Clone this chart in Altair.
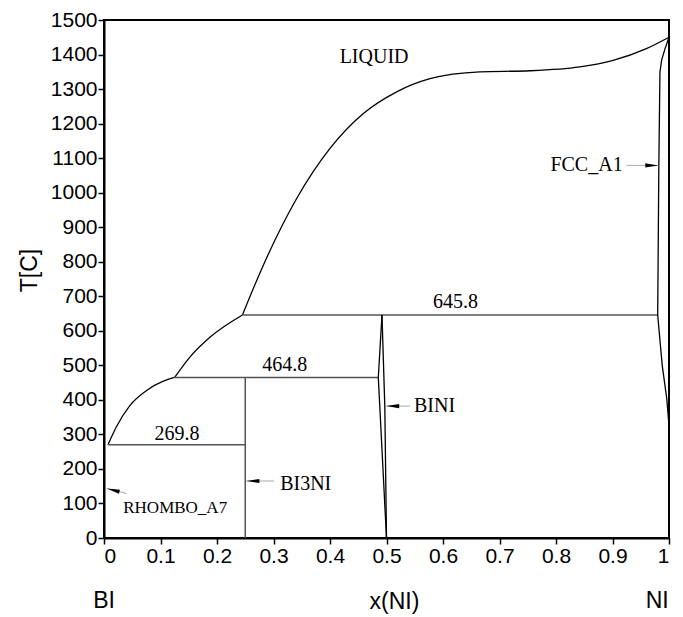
import altair as alt
import pandas as pd

# ---------------- data ----------------
# Liquidus, Bi-rich branch (RHOMBO_A7 eutectic -> Bi3Ni peritectic)
liq1_x = [0.007, 0.022, 0.046, 0.076, 0.105, 0.125]
liq1_T = [269.8, 322, 384, 428, 454, 464.8]
# Liquidus, Bi3Ni peritectic -> BiNi peritectic
liq2_x = [0.125, 0.152, 0.188, 0.245]
liq2_T = [464.8, 524, 582, 645.8]
# Liquidus, main branch up to Ni melting point
liq3_x = [0.245, 0.282, 0.341, 0.400, 0.459, 0.518, 0.577, 0.665, 0.754, 0.842, 0.901, 0.960, 1.0]
liq3_T = [645.8, 790, 983, 1128, 1229, 1292, 1330, 1350, 1353, 1364, 1383, 1417, 1450]
# FCC_A1 solidus
sol_x = [1.0, 0.993, 0.987, 0.984, 0.982, 0.980]
sol_T = [1450, 1417, 1384, 1350, 1079, 645.8]
# FCC_A1 solvus
slv_x = [0.980, 0.988, 0.996, 1.0, 1.0]
slv_T = [645.8, 500, 404, 326, 255]
# BiNi homogeneity lens
bini_l_x = [0.492, 0.4855, 0.5]
bini_l_T = [645.8, 464.8, 0.0]
bini_r_x = [0.492, 0.497, 0.5]
bini_r_T = [645.8, 382, 0.0]

# Invariant horizontals: temperature, x from, x to
inv_T = [645.8, 464.8, 269.8]
inv_x1 = [0.245, 0.125, 0.007]
inv_x2 = [0.980, 0.4855, 0.25]
# Bi3Ni line compound
bi3ni_x = [0.25]
bi3ni_T1 = [0.0]
bi3ni_T2 = [464.8]

# Region / temperature labels
lab_text = ["LIQUID", "645.8", "464.8", "269.8", "BINI", "BI3NI", "FCC_A1"]
lab_x = [0.478, 0.622, 0.320, 0.129, 0.585, 0.357, 0.854]
lab_T = [1393, 684, 502, 302, 382, 157, 1079]
small_text = ["RHOMBO_A7"]
small_x = [0.126]
small_T = [88]

# Arrows: tip and tail (angle: 0 = pointing left, 180 = pointing right)
arr_tip_x = [0.981, 0.4995, 0.252, 0.005]
arr_tip_T = [1079, 382, 165, 143]
arr_tail_x = [0.925, 0.542, 0.301, 0.040]
arr_tail_T = [1079, 382, 165, 129]
arr_angle = [180, 0, 0, 14]

x_ticks = [0, 0.1, 0.2, 0.3, 0.4, 0.5, 0.6, 0.7, 0.8, 0.9, 1]
y_ticks = list(range(0, 1501, 100))

end_text = ["BI", "NI"]
end_x = [0.0, 0.979]

# ---------------- tables ----------------
def curve(name, xs, ts):
    return pd.DataFrame({"x": xs, "T": ts, "seg": name, "o": range(len(xs))})

smooth = pd.concat([curve("l1", liq1_x, liq1_T), curve("l2", liq2_x, liq2_T),
                    curve("l3", liq3_x, liq3_T)])
straight = pd.concat([curve("sol", sol_x, sol_T), curve("slv", slv_x, slv_T),
                      curve("bl", bini_l_x, bini_l_T), curve("br", bini_r_x, bini_r_T)])
inv = pd.DataFrame({"T": inv_T, "x1": inv_x1, "x2": inv_x2})
vert = pd.DataFrame({"x": bi3ni_x, "T1": bi3ni_T1, "T2": bi3ni_T2})
labs = pd.DataFrame({"t": lab_text, "x": lab_x, "T": lab_T})
slabs = pd.DataFrame({"t": small_text, "x": small_x, "T": small_T})
arr = pd.DataFrame({"x": arr_tip_x, "T": arr_tip_T, "x2": arr_tail_x, "T2": arr_tail_T,
                    "a": arr_angle})
ends = pd.DataFrame({"t": end_text, "x": end_x})

SANS = "Liberation Sans"
SERIF = "Liberation Serif"

xs = alt.Scale(domain=[0, 1], nice=False, zero=False)
ys = alt.Scale(domain=[0, 1500], nice=False, zero=False)

x_axis = alt.Axis(
    values=x_ticks, labelExpr="format(datum.value, '~g')", title="x(NI)",
    labelFont=SANS, labelFontSize=21, labelColor="black", labelPadding=1,
    tickColor="black", tickSize=6, tickWidth=1.5, domainColor="black", domainWidth=2,
    grid=False, titleFont=SANS, titleFontSize=23, titleFontWeight="normal",
    titleColor="black", titleX=290, titleY=63, titleBaseline="middle")
y_axis = alt.Axis(
    values=y_ticks, format="d", title="T[C]",
    labelFont=SANS, labelFontSize=21, labelColor="black", labelPadding=1,
    tickColor="black", tickSize=6, tickWidth=1.5, domainColor="black", domainWidth=2,
    grid=False, titleFont=SANS, titleFontSize=23, titleFontWeight="normal",
    titleColor="black", titleX=-75, titleY=250, titleAngle=-90,
    titleAlign="center", titleBaseline="middle")

smooth_layer = alt.Chart(smooth).mark_line(
    color="black", strokeWidth=1.3, interpolate="monotone").encode(
    x=alt.X("x:Q", scale=xs, axis=x_axis), y=alt.Y("T:Q", scale=ys, axis=y_axis),
    detail="seg:N", order="o:Q")
straight_layer = alt.Chart(straight).mark_line(
    color="black", strokeWidth=1.3).encode(
    x=alt.X("x:Q", scale=xs, axis=x_axis), y=alt.Y("T:Q", scale=ys, axis=y_axis),
    detail="seg:N", order="o:Q")
inv_layer = alt.Chart(inv).mark_rule(color="#555555", strokeWidth=1.5).encode(
    x=alt.X("x1:Q", scale=xs, axis=x_axis), x2="x2:Q",
    y=alt.Y("T:Q", scale=ys, axis=y_axis))
vert_layer = alt.Chart(vert).mark_rule(color="#555555", strokeWidth=1.5).encode(
    x=alt.X("x:Q", scale=xs, axis=x_axis), y=alt.Y("T1:Q", scale=ys, axis=y_axis),
    y2="T2:Q")
lab_layer = alt.Chart(labs).mark_text(
    font=SERIF, fontSize=20, color="black", align="center", baseline="middle").encode(
    x=alt.X("x:Q", scale=xs, axis=x_axis), y=alt.Y("T:Q", scale=ys, axis=y_axis),
    text="t:N")
slab_layer = alt.Chart(slabs).mark_text(
    font=SERIF, fontSize=17, color="black", align="center", baseline="middle").encode(
    x=alt.X("x:Q", scale=xs, axis=x_axis), y=alt.Y("T:Q", scale=ys, axis=y_axis),
    text="t:N")
tail_layer = alt.Chart(arr).mark_rule(color="#aaaaaa", strokeWidth=1).encode(
    x=alt.X("x:Q", scale=xs, axis=x_axis), y=alt.Y("T:Q", scale=ys, axis=y_axis),
    x2="x2:Q", y2="T2:Q")
head_layer = alt.Chart(arr).mark_point(
    shape="M0,0L2,-0.32L2,0.32Z", size=169, filled=True, color="black",
    opacity=1, strokeWidth=0).encode(
    x=alt.X("x:Q", scale=xs, axis=x_axis), y=alt.Y("T:Q", scale=ys, axis=y_axis),
    angle=alt.Angle("a:Q", scale=None))
end_layer = alt.Chart(ends).mark_text(
    font=SANS, fontSize=23, color="black", align="center", baseline="middle").encode(
    x=alt.X("x:Q", scale=xs, axis=x_axis), y=alt.value(581), text="t:N")

chart = alt.layer(
    smooth_layer, inv_layer, vert_layer, straight_layer, tail_layer, head_layer,
    lab_layer, slab_layer, end_layer
).properties(
    width=565, height=518,
    autosize=alt.AutoSizeParams(type="none"),
    padding={"left": 104, "top": 20, "right": 14, "bottom": 79},
    background="white",
).configure_view(stroke="black", strokeWidth=2)

chart.save("out.html", embed_options={"renderer": "svg", "actions": False})
